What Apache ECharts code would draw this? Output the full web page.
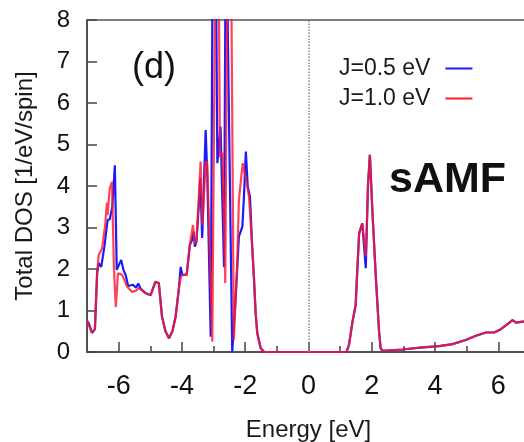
<!DOCTYPE html>
<html>
<head>
<meta charset="utf-8">
<script src="https://cdn.jsdelivr.net/npm/echarts@6/dist/echarts.min.js"></script>
<style>html,body{margin:0;padding:0;background:#fff}#c{width:524px;height:442px}</style>
</head>
<body>
<div id="c"></div>
<script>
// Energy (eV) and total DOS for J = 0.5 eV (blue)
const blueE = [-7.0,-6.95,-6.84,-6.75,-6.68,-6.63,-6.55,-6.45,-6.35,-6.28,-6.2,-6.12,-6.06,-5.92,-5.85,-5.78,-5.7,-5.55,-5.45,-5.38,-5.3,-5.15,-4.99,-4.84,-4.73,-4.63,-4.52,-4.41,-4.3,-4.2,-4.1,-4.04,-3.99,-3.85,-3.75,-3.68,-3.63,-3.59,-3.54,-3.47,-3.42,-3.36,-3.25,-3.2,-3.09,-3.02,-2.94,-2.88,-2.78,-2.67,-2.61,-2.55,-2.41,-2.3,-2.2,-2.09,-2.04,-1.98,-1.92,-1.85,-1.78,-1.72,-1.67,-1.62,-1.51,-1.4,1.2,1.28,1.39,1.49,1.54,1.6,1.7,1.81,1.88,1.94,2.02,2.13,2.23,2.28,2.34,2.97,3.6,4.13,4.55,4.97,5.29,5.61,5.87,6.08,6.29,6.45,6.56,6.77,7.0];
const blueDOS = [0.75,0.7,0.46,0.55,1.9,2.14,2.05,2.54,3.18,3.2,3.5,4.5,1.98,2.22,1.98,1.86,1.59,1.62,1.55,1.65,1.52,1.42,1.37,1.69,1.66,0.85,0.5,0.33,0.5,0.85,1.5,2.05,1.86,1.86,2.58,2.7,2.9,2.54,2.66,3.5,4.2,2.75,5.35,4.3,0.37,11,11,4.55,5.43,2.05,11,11,0.0,1.33,2.78,3.02,3.74,4.83,3.98,3.74,2.54,1.73,0.93,0.46,0.09,0.0,0.0,0.17,0.73,1.13,1.93,2.86,3.1,2.02,4.02,4.75,3.38,1.78,0.49,0.09,0.03,0.06,0.11,0.14,0.19,0.29,0.39,0.47,0.47,0.55,0.67,0.77,0.71,0.73,0.75];
// Energy (eV) and total DOS for J = 1.0 eV (red)
const redE = [-7.0,-6.95,-6.84,-6.75,-6.68,-6.63,-6.52,-6.42,-6.37,-6.35,-6.28,-6.21,-6.15,-6.09,-6.02,-5.89,-5.73,-5.58,-5.45,-5.36,-5.15,-4.99,-4.84,-4.73,-4.63,-4.52,-4.41,-4.3,-4.2,-4.1,-4.04,-3.99,-3.85,-3.75,-3.65,-3.59,-3.54,-3.47,-3.41,-3.35,-3.25,-3.2,-3.04,-2.93,-2.85,-2.8,-2.72,-2.63,-2.55,-2.46,-2.36,-2.25,-2.2,-2.15,-2.08,-2.03,-1.94,-1.88,-1.78,-1.72,-1.67,-1.62,-1.51,-1.4,1.2,1.28,1.39,1.49,1.54,1.6,1.7,1.81,1.88,1.94,2.02,2.13,2.23,2.28,2.34,2.97,3.6,4.13,4.55,4.97,5.29,5.61,5.87,6.08,6.29,6.45,6.56,6.77,7.0];
const redDOS = [0.75,0.72,0.46,0.55,1.9,2.34,2.5,3.1,3.6,3.3,3.95,4.1,2.05,1.08,1.9,1.86,1.57,1.45,1.48,1.54,1.42,1.37,1.69,1.66,0.85,0.5,0.33,0.5,0.85,1.5,1.8,1.86,1.86,2.58,3.06,2.6,2.7,3.66,4.59,3.06,4.6,4.55,0.25,11,11,4.7,4.8,1.66,11,11,0.29,2.22,3.66,3.7,4.55,4.59,4.02,3.74,2.54,1.73,0.93,0.46,0.09,0.0,0.0,0.17,0.73,1.13,1.93,2.86,3.1,2.3,4.02,4.75,3.38,1.78,0.49,0.09,0.03,0.06,0.11,0.14,0.19,0.29,0.39,0.47,0.47,0.55,0.67,0.77,0.71,0.73,0.75];
// Tick labels
const xMajorTicks = [-6,-4,-2,0,2,4,6];
const xMinorTicks = [-5,-3,-1,1,3,5];
const seriesNames = ['J=0.5 eV','J=1.0 eV'];

const FONT = 'Liberation Sans, Arial, Helvetica, sans-serif';
const chart = echarts.init(document.getElementById('c'), null, {renderer:'canvas'});
chart.setOption({
  animation:false,
  backgroundColor:'#fff',
  grid:{left:87, top:20, width:443, height:332, outerBoundsMode:'none', containLabel:false,
        show:true, borderColor:'#555', borderWidth:1.5, backgroundColor:'transparent'},
  legend:{
    orient:'vertical', left:334, top:52, align:'right', itemGap:7,
    icon:'rect', itemWidth:27, itemHeight:2,
    textStyle:{fontFamily:FONT, fontSize:23, color:'#1a1a1a', padding:[0,10,0,0]},
    data:seriesNames
  },
  xAxis:[{
    type:'value', min:-7, max:7, position:'bottom',
    name:'Energy [eV]', nameLocation:'middle', nameGap:66,
    nameTextStyle:{fontFamily:FONT, fontSize:24, color:'#1a1a1a'},
    axisLine:{show:true, onZero:false, lineStyle:{color:'#444', width:1.5}},
    axisTick:{show:true, inside:true, length:10, customValues:xMajorTicks, lineStyle:{color:'#444', width:1.5}},
    axisLabel:{customValues:xMajorTicks, margin:21, fontFamily:FONT, fontSize:27, color:'#111'},
    splitLine:{show:false}
  },{
    type:'value', min:-7, max:7, position:'bottom',
    axisLine:{show:false, onZero:false},
    axisTick:{show:true, inside:true, length:6, customValues:xMinorTicks, lineStyle:{color:'#444', width:1.5}},
    axisLabel:{show:false},
    splitLine:{show:false}
  }],
  yAxis:{
    type:'value', min:0, max:8, interval:1,
    name:'Total DOS [1/eV/spin]', nameLocation:'middle', nameGap:50,
    nameTextStyle:{fontFamily:FONT, fontSize:24, color:'#1a1a1a'},
    axisLine:{show:true, onZero:false, lineStyle:{color:'#444', width:1.5}},
    axisTick:{show:true, inside:true, length:10, lineStyle:{color:'#444', width:1.5}},
    axisLabel:{margin:17, fontFamily:FONT, fontSize:24, color:'#111'},
    splitLine:{show:false}
  },
  graphic:[
    {type:'text', left:132, top:50, style:{text:'(d)', font:'36px '+FONT, fill:'#111'}},
    {type:'text', left:389, top:159, style:{text:'sAMF', font:'bold 43px '+FONT, fill:'#111'}}
  ],
  series:[{
    name:seriesNames[0], type:'line', xAxisIndex:0, symbol:'none', clip:true,
    data:blueE.map((e,i)=>[e, blueDOS[i]]),
    lineStyle:{color:'#1a1aff', width:2.2}, itemStyle:{color:'#1a1aff'},
    markLine:{silent:true, symbol:'none', label:{show:false},
      lineStyle:{type:'dotted', color:'#888', width:1.5},
      data:[{xAxis:0}]}
  },{
    name:seriesNames[1], type:'line', xAxisIndex:0, symbol:'none', clip:true,
    data:redE.map((e,i)=>[e, redDOS[i]]),
    lineStyle:{color:'#ff1a2e', width:2.2, opacity:0.82}, itemStyle:{color:'#ff1a2e'}
  }]
});
</script>
</body>
</html>
